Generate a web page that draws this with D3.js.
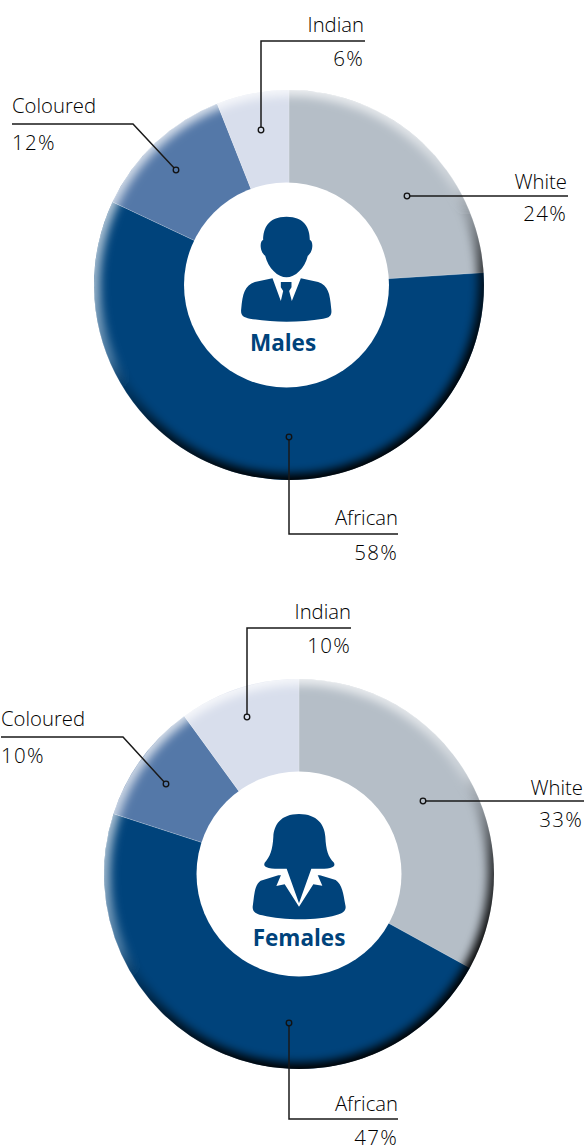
<!DOCTYPE html>
<html>
<head>
<meta charset="utf-8">
<script src="https://cdnjs.cloudflare.com/ajax/libs/d3/7.8.5/d3.min.js"></script>
<style>
html, body { margin: 0; padding: 0; background: #fff; }
svg { display: block; }
text { font-family: "Open Sans", sans-serif; font-weight: 300; font-size: 20.3px; fill: #000; }
.pct { font-size: 20.5px; letter-spacing: 1.3px; }
</style>
</head>
<body>
<svg id="chart" width="585" height="1146"></svg>
<script>
// values
const categories = ['White', 'African', 'Coloured', 'Indian'];
const malesValues = [24, 58, 12, 6];
const femalesValues = [33, 47, 10, 10];
const colours = ['#b5bec7', '#00437b', '#5478a8', '#d8deec'];

const svg = d3.select('#chart');
const defs = svg.append('defs');
const navy = '#00437b';

const color = d3.scaleOrdinal().domain(categories).range(colours);
const pie = d3.pie().sort(null);
const arc = d3.arc().innerRadius(0).outerRadius(195);
const line = d3.line();

// soft edge for the rim of the doughnuts
defs.append('filter').attr('id', 'soft')
    .attr('x', '-20%').attr('y', '-20%').attr('width', '140%').attr('height', '140%')
    .append('feGaussianBlur').attr('stdDeviation', 5);

// rim goes from white at the upper left to black at the bottom
const rimGrad = defs.append('linearGradient').attr('id', 'rim')
    .attr('gradientUnits', 'userSpaceOnUse')
    .attr('x1', -100).attr('y1', -200).attr('x2', 100).attr('y2', 200);
rimGrad.append('stop').attr('offset', '0%').attr('stop-color', '#fff').attr('stop-opacity', 0.8);
rimGrad.append('stop').attr('offset', '32%').attr('stop-color', '#fff').attr('stop-opacity', 0.6);
rimGrad.append('stop').attr('offset', '47%').attr('stop-color', '#fff').attr('stop-opacity', 0.3);
rimGrad.append('stop').attr('offset', '54%').attr('stop-color', '#000').attr('stop-opacity', 0.2);
rimGrad.append('stop').attr('offset', '66%').attr('stop-color', '#000').attr('stop-opacity', 0.7);
rimGrad.append('stop').attr('offset', '85%').attr('stop-color', '#000').attr('stop-opacity', 1);
rimGrad.append('stop').attr('offset', '100%').attr('stop-color', '#000').attr('stop-opacity', 1);

function drawDonut(id, values, cx, cy, holeX, callouts, label, labelX, labelY, icon) {
    const g = svg.append('g').attr('transform', `translate(${cx},${cy})`);

    g.selectAll('path.slice')
        .data(pie(values))
        .join('path')
        .attr('class', 'slice')
        .attr('d', arc)
        .attr('fill', (d, i) => color(categories[i]))
        .attr('stroke', '#fff')
        .attr('stroke-opacity', 0.35)
        .attr('stroke-width', 0.5);

    // bevel ring, clipped to the disc
    defs.append('clipPath').attr('id', 'disc-' + id)
        .append('circle').attr('r', 195);
    g.append('g').attr('clip-path', `url(#disc-${id})`)
        .append('g').attr('filter', 'url(#soft)')
        .append('circle')
        .attr('r', 203)
        .attr('fill', 'none')
        .attr('stroke', 'url(#rim)')
        .attr('stroke-width', 28);

    // hole
    svg.append('circle')
        .attr('cx', holeX).attr('cy', cy).attr('r', 102.5)
        .attr('fill', '#fff');

    icon(holeX, cy);

    svg.append('text')
        .attr('x', labelX).attr('y', labelY)
        .attr('text-anchor', 'middle')
        .style('font-weight', 700)
        .style('font-size', '22.5px')
        .style('fill', navy)
        .text(label);

    // leader lines, end dots and labels
    callouts.forEach((c, i) => {
        svg.append('path')
            .attr('d', line(c.path))
            .attr('fill', 'none')
            .attr('stroke', '#1a1a1a')
            .attr('stroke-width', 1.5);
        svg.append('circle')
            .attr('cx', c.path[0][0]).attr('cy', c.path[0][1]).attr('r', 2.8)
            .attr('fill', colours[i])
            .attr('stroke', '#111')
            .attr('stroke-width', 1.3);
        svg.append('text')
            .attr('x', c.textX).attr('y', c.nameY)
            .attr('text-anchor', c.anchor)
            .text(categories[i]);
        svg.append('text')
            .attr('class', 'pct')
            .attr('x', c.textX).attr('y', c.valueY)
            .attr('text-anchor', c.anchor)
            .text(values[i] + '%');
    });
}

function maleIcon(cx, cy) {
    const g = svg.append('g')
        .attr('transform', `translate(${cx},${cy}) scale(0.3333) translate(-260,-285)`)
        .attr('fill', navy);
    g.append('path').attr('d', 'M260 80C205 80 190 115 190 150C180 150 178 185 196 197C205 235 235 262 260 262C285 262 315 235 324 197C342 185 340 150 330 150C330 115 315 80 260 80Z');
    g.append('path').attr('d', 'M218 265L165 276C135 287 128 310 124 358C122 376 130 382 150 386C220 398 300 398 370 386C392 382 397 375 394 355C390 310 385 287 355 276L303 265L276 333L268 303L275 292L275 276L243 276L243 292L250 303L243 333Z');
}

function femaleIcon(cx, cy) {
    const g = svg.append('g')
        .attr('transform', `translate(${cx},${cy}) scale(0.3333) translate(-265,-252)`)
        .attr('fill', navy);
    g.append('path').attr('d', 'M203 256L150 272C130 285 131 320 126 350C125 365 135 372 155 376C220 392 320 392 375 376C400 370 408 360 404 345C398 310 395 285 375 270L328 256Z');
    g.append('path').attr('fill', '#fff').attr('d', 'M212 253L197 288L222 283L265 350L308 283L335 287L320 253Z');
    g.append('path').attr('d', 'M265 72C210 72 190 105 188 140C186 180 178 200 162 218C156 230 170 236 205 236L228 236L265 340L302 236L330 236C362 236 376 230 370 218C352 200 346 180 344 140C342 105 320 72 265 72Z');
}

drawDonut('m', malesValues, 289, 285, 286.5, [
    {path: [[407, 196], [568, 196]], textX: 567, nameY: 189, valueY: 221, anchor: 'end'},
    {path: [[289, 437], [289, 534], [398, 534]], textX: 398, nameY: 525, valueY: 560, anchor: 'end'},
    {path: [[176, 170], [133, 124], [12, 124]], textX: 12, nameY: 113, valueY: 150, anchor: 'start'},
    {path: [[261, 130], [261, 41], [365, 41]], textX: 364, nameY: 32, valueY: 66, anchor: 'end'}
], 'Males', 283, 351, maleIcon);

drawDonut('f', femalesValues, 299, 874, 299, [
    {path: [[423, 801], [584, 801]], textX: 583, nameY: 795, valueY: 827, anchor: 'end'},
    {path: [[289, 1023], [289, 1119], [398, 1119]], textX: 398, nameY: 1111, valueY: 1145, anchor: 'end'},
    {path: [[166, 784], [123, 737], [1, 737]], textX: 1, nameY: 726, valueY: 763, anchor: 'start'},
    {path: [[247, 717], [247, 628], [351, 628]], textX: 351, nameY: 619, valueY: 653, anchor: 'end'}
], 'Females', 299, 946, femaleIcon);
</script>
</body>
</html>
